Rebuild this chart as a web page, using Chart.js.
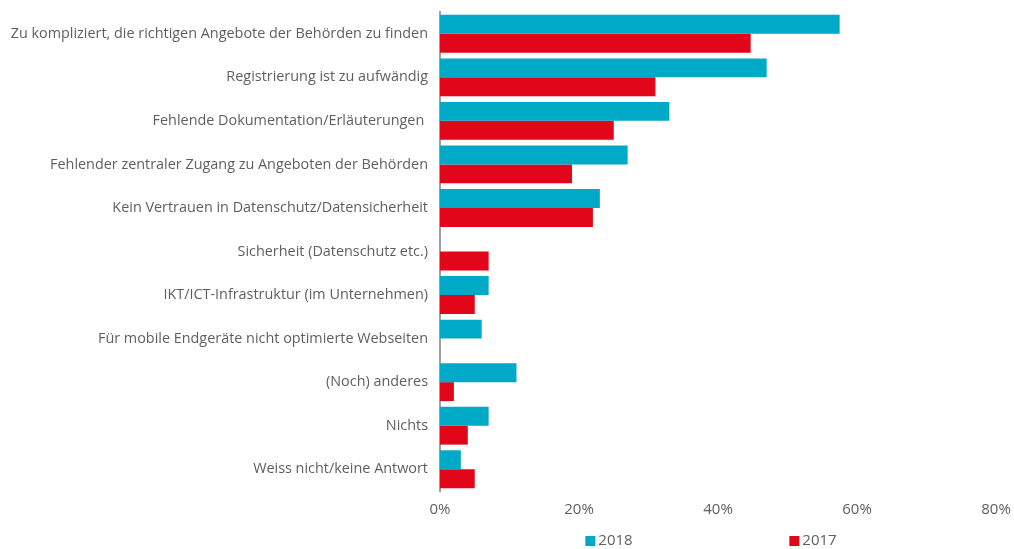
<!DOCTYPE html>
<html>
<head>
<meta charset="utf-8">
<script src="https://cdn.jsdelivr.net/npm/chart.js@4/dist/chart.umd.min.js"></script>
<style>
  html, body { margin: 0; padding: 0; background: #fff; }
  #wrap { width: 1014px; height: 549px; }
</style>
</head>
<body>
<div id="wrap"><canvas id="grafico"></canvas></div>
<script>
// Kategorien (von oben nach unten)
const kategorien = [
  "Zu kompliziert, die richtigen Angebote der Behörden zu finden",
  "Registrierung ist zu aufwändig",
  "Fehlende Dokumentation/Erläuterungen ",
  "Fehlender zentraler Zugang zu Angeboten der Behörden",
  "Kein Vertrauen in Datenschutz/Datensicherheit",
  "Sicherheit (Datenschutz etc.)",
  "IKT/ICT-Infrastruktur (im Unternehmen)",
  "Für mobile Endgeräte nicht optimierte Webseiten",
  "(Noch) anderes",
  "Nichts",
  "Weiss nicht/keine Antwort"
];

// Werte in Prozent
const werte2018 = [57.5, 47, 33, 27, 23, null, 7, 6, 11, 7, 3];
const werte2017 = [44.7, 31, 25, 19, 22, 7, 5, null, 2, 4, 5];

const achsenTicks = [0, 20, 40, 60, 80];

const farbe2018 = "#00A9C5";
const farbe2017 = "#E2061A";
const textFarbe = "#5f5f5f";

// eigene Legende unter dem Diagramm
const legendePlugin = {
  id: "legendeUnten",
  afterDraw(chart) {
    const ctx = chart.ctx;
    const area = chart.chartArea;
    const mitte = (area.left + area.right) / 2 - 7;
    const abstand = 102;
    ctx.save();
    ctx.font = "15px 'Open Sans'";
    ctx.textBaseline = "middle";
    chart.data.datasets.forEach((ds, i) => {
      const cx = mitte + (i === 0 ? -abstand : abstand);
      const y = 541;
      const tw = ctx.measureText(ds.label).width;
      const start = cx - (10 + 3 + tw) / 2;
      ctx.fillStyle = ds.backgroundColor;
      ctx.fillRect(start, y - 5, 10, 10);
      ctx.fillStyle = textFarbe;
      ctx.textAlign = "left";
      ctx.fillText(ds.label, start + 13, y);
    });
    ctx.restore();
  }
};

new Chart(document.getElementById("grafico"), {
  type: "bar",
  data: {
    labels: kategorien,
    datasets: [
      { label: "2018", data: werte2018, backgroundColor: farbe2018 },
      { label: "2017", data: werte2017, backgroundColor: farbe2017 }
    ]
  },
  options: {
    indexAxis: "y",
    responsive: true,
    maintainAspectRatio: false,
    animation: false,
    categoryPercentage: 0.87,
    barPercentage: 1,
    layout: { padding: { top: 12, right: 18, bottom: 28, left: 0 } },
    plugins: {
      legend: { display: false },
      tooltip: { enabled: false }
    },
    scales: {
      x: {
        min: 0,
        max: 80,
        afterBuildTicks: s => { s.ticks = achsenTicks.map(v => ({ value: v })); },
        grid: { display: false },
        border: { display: false },
        ticks: {
          color: textFarbe,
          font: { family: "'Open Sans'", size: 15 },
          padding: 2,
          callback: v => v + "%"
        }
      },
      y: {
        grid: { display: false, drawTicks: false },
        border: { display: true, color: "#A0A0A0", width: 2 },
        afterFit: s => { s.width = 440; s.paddingTop = 0; s.paddingBottom = 0; },
        ticks: {
          color: textFarbe,
          font: { family: "'Open Sans'", size: 14.4 },
          padding: 12
        }
      }
    }
  },
  plugins: [legendePlugin]
});
</script>
</body>
</html>
